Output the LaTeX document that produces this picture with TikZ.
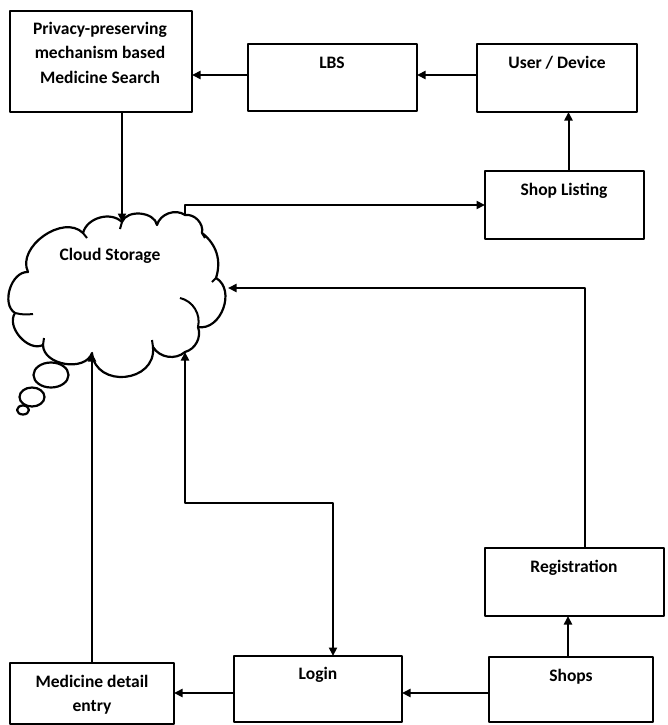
\documentclass[tikz,border=0pt]{standalone}
\usepackage{fontspec}
\setmainfont{Carlito}
\usetikzlibrary{arrows.meta}
\begin{document}
\begin{tikzpicture}[x=1pt,y=-1pt,
  line width=2.2pt, line join=round,
  box/.style={draw, line width=2.2pt, inner sep=0pt, outer sep=0pt, anchor=north west},
  lbl/.style={font=\bfseries\fontsize{17.5}{24.5}\selectfont, align=center, inner sep=0pt},
  arr/.style={-{Triangle[length=8.5pt,width=8pt]}, line width=2pt},
  arrb/.style={{Triangle[length=8.5pt,width=8pt]}-{Triangle[length=8.5pt,width=8pt]}, line width=2pt},
  lobe/.style 2 args={bend left=#1, looseness=#2},
  tick/.style={line width=2pt}
]
\useasboundingbox (0,0) rectangle (667,725);

% boxes
\node[box, minimum width=182pt, minimum height=101pt] (priv) at (10,11) {};
\node[box, minimum width=169pt, minimum height=67pt] (lbs) at (248,44) {};
\node[box, minimum width=160pt, minimum height=68pt] (user) at (477,44) {};
\node[box, minimum width=159pt, minimum height=68pt] (slist) at (485,171) {};
\node[box, minimum width=179pt, minimum height=68pt] (reg) at (485,548) {};
\node[box, minimum width=164pt, minimum height=65pt] (shops) at (489,657) {};
\node[box, minimum width=168pt, minimum height=66pt] (login) at (234,656) {};
\node[box, minimum width=164pt, minimum height=61pt] (med) at (10,663) {};

% labels
\node[lbl, anchor=north] (privT) at (100,21) {Privacy-preserving\\mechanism based\\Medicine Search};
\node[lbl, anchor=base] (lbsT) at (332,68) {LBS};
\node[lbl, anchor=base] (userT) at (557,68) {User / Device};
\node[lbl, anchor=base] (slistT) at (564,195) {Shop Listing};
\node[lbl, anchor=base] (regT) at (574,572) {Registration};
\node[lbl, anchor=base] (shopsT) at (571,681) {Shops};
\node[lbl, anchor=base] (loginT) at (318,679) {Login};
\node[lbl, anchor=north] (medT) at (92,674) {Medicine detail\\entry};
\node[lbl, anchor=base] (cloudT) at (110,260) {Cloud Storage};

% cloud outline points
\coordinate (P1) at (83,233);
\coordinate (P2) at (122,222);
\coordinate (P3) at (157,225);
\coordinate (P4) at (185,215);
\coordinate (P5) at (202,233);
\coordinate (P6) at (216,278);
\coordinate (P7) at (198,327);
\coordinate (P8) at (185,352);
\coordinate (P9) at (153,347);
\coordinate (P10) at (92,353);
\coordinate (P11) at (43,345);
\coordinate (P12) at (15,313);
\coordinate (P13) at (28,272);
\coordinate (Q) at (228,288);

\draw (P1) to[lobe={60}{1}] (P2) to[lobe={75}{1}] (P3) to[lobe={55}{1}] (P4)
  to[lobe={55}{1}] (P5) to[lobe={35}{1}] (P6) to[lobe={80}{1.15}] (P7)
  to[lobe={47}{1}] (P8) to[lobe={50}{1}] (P9) to[lobe={90}{1.5}] (P10)
  to[lobe={80}{1.05}] (P11) to[lobe={75}{1}] (P12) to[lobe={75}{1}] (P13)
  to[lobe={80}{1.05}] (P1) -- cycle;
% inner ticks of the cloud
\draw[tick] (180,298) to[bend left=45] (P7);
\draw[tick] (P12) to[bend right=10] (33,314);
\draw[tick] (P2) -- (120,229);
\draw[tick] (P9) -- (152,340);
\draw[tick] (P1) -- (87,238);
\draw[tick] (P5) -- (205,238);
\draw[tick] (P6) -- (212,282);
\draw[tick] (P11) -- (44,338);

% thought bubbles
\draw (51,375) ellipse [x radius=17.5, y radius=12.5];
\draw (32,397) ellipse [x radius=12.5, y radius=9.5];
\draw (23,410) ellipse [x radius=6, y radius=4.5];

% connectors
\coordinate (ly) at (0,75);
\draw[arr] (user.west |- ly) -- (lbs.east |- ly);
\draw[arr] (lbs.west |- ly) -- (priv.east |- ly);
\draw[arr] (priv.south -| P2) -- (P2);
\draw[arr] ([xshift=4pt]slist.north) -- ([xshift=4pt]slist.north |- user.south);
\draw[arr] (P4) |- (slist.west);
\coordinate (rx) at (585,0);
\draw[arr] (reg.north -| rx) |- (Q);
\draw[arr] ([xshift=-3pt]shops.north) -- ([xshift=-3pt]shops.north |- reg.south);
\coordinate (hy) at (0,693);
\draw[arr] (shops.west |- hy) -- (login.east |- hy);
\draw[arr] (login.west |- hy) -- (med.east |- hy);
\draw[arr] (med.north -| P10) -- (P10);
\coordinate (j1) at (333,503);
\draw[arrb] (P8) |- (j1) -- (j1 |- login.north);
\end{tikzpicture}
\end{document}
